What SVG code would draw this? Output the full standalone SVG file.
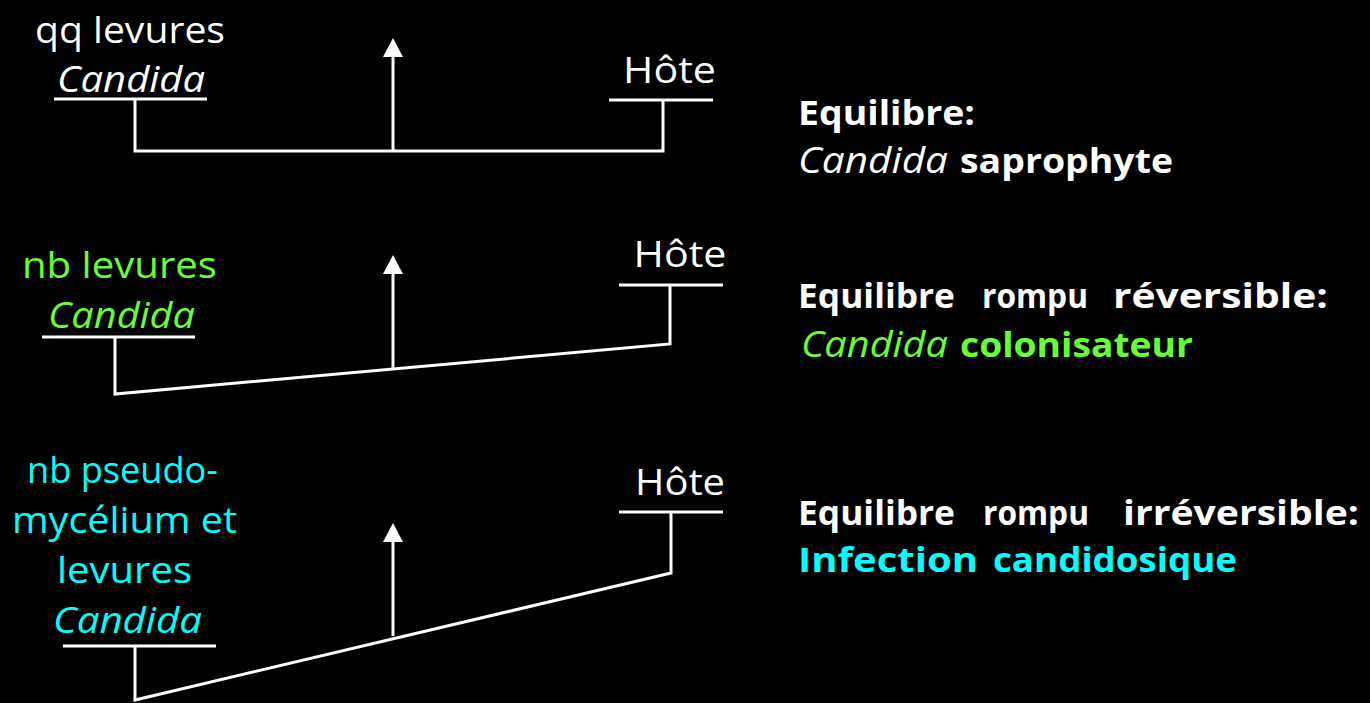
<svg xmlns="http://www.w3.org/2000/svg" width="1370" height="703" viewBox="0 0 1370 703">
<style>
  text { font-family: "Comic Sans MS", "Open Sans", "Liberation Sans", sans-serif; font-size: 37px; }
  .w { fill: #FFFFFF; }
  .g { fill: #66FF33; }
  .c { fill: #00FFFF; }
  .it { font-style: italic; }
  .b { font-weight: bold; font-size: 34px; }
  .ln { stroke: #FFFFFF; stroke-width: 3; fill: none; stroke-linecap: butt; }
  .mid { text-anchor: middle; }
</style>
<defs>
  <marker id="arr" markerUnits="userSpaceOnUse" markerWidth="22" markerHeight="22" viewBox="0 0 22 22" refX="0" refY="11" orient="auto">
    <polygon points="0,1 19,11 0,21" fill="#FFFFFF"/>
  </marker>
</defs>
<rect x="0" y="0" width="1370" height="703" fill="#000000"/>

<!-- Row 1 -->
<g id="candida1">
  <text class="w mid" x="130" y="43" textLength="190" lengthAdjust="spacingAndGlyphs">qq levures</text>
  <text class="w mid it" x="131" y="92" textLength="148" lengthAdjust="spacingAndGlyphs">Candida</text>
</g>
<g id="hote1">
  <text class="w mid" x="669.5" y="83" textLength="93" lengthAdjust="spacingAndGlyphs">Hôte</text>
</g>
<g id="label1">
  <text class="w b" x="798" y="125" textLength="177" lengthAdjust="spacingAndGlyphs">Equilibre:</text>
  <text class="w it" x="798" y="173" textLength="150" lengthAdjust="spacingAndGlyphs">Candida</text>
  <text class="w b" x="960" y="173" textLength="213" lengthAdjust="spacingAndGlyphs">saprophyte</text>
</g>

<!-- Row 2 -->
<g id="candida2">
  <text class="g mid" x="119.5" y="278" textLength="195" lengthAdjust="spacingAndGlyphs">nb levures</text>
  <text class="g mid it" x="121.5" y="328" textLength="147" lengthAdjust="spacingAndGlyphs">Candida</text>
</g>
<g id="hote2">
  <text class="w mid" x="680" y="267" textLength="93" lengthAdjust="spacingAndGlyphs">Hôte</text>
</g>
<g id="label2">
  <text class="w b" x="798" y="308" textLength="157" lengthAdjust="spacingAndGlyphs">Equilibre</text>
  <text class="w b" x="982" y="308" textLength="106" lengthAdjust="spacingAndGlyphs">rompu</text>
  <text class="w b" x="1113" y="308" textLength="215" lengthAdjust="spacingAndGlyphs">réversible:</text>
  <text class="g it" x="801" y="357" textLength="147" lengthAdjust="spacingAndGlyphs">Candida</text>
  <text class="g b" x="960" y="357" textLength="233" lengthAdjust="spacingAndGlyphs">colonisateur</text>
</g>

<!-- Row 3 -->
<g id="candida3">
  <text class="c mid" x="122.5" y="483" textLength="191" lengthAdjust="spacingAndGlyphs">nb pseudo-</text>
  <text class="c mid" x="124.5" y="533" textLength="225" lengthAdjust="spacingAndGlyphs">mycélium et</text>
  <text class="c mid" x="124.5" y="583" textLength="135" lengthAdjust="spacingAndGlyphs">levures</text>
  <text class="c mid it" x="127.5" y="633" textLength="149" lengthAdjust="spacingAndGlyphs">Candida</text>
</g>
<g id="hote3">
  <text class="w mid" x="680" y="495" textLength="90" lengthAdjust="spacingAndGlyphs">Hôte</text>
</g>
<g id="label3">
  <text class="w b" x="798" y="525" textLength="157" lengthAdjust="spacingAndGlyphs">Equilibre</text>
  <text class="w b" x="983" y="525" textLength="106" lengthAdjust="spacingAndGlyphs">rompu</text>
  <text class="w b" x="1123" y="525" textLength="236" lengthAdjust="spacingAndGlyphs">irréversible:</text>
  <text class="c b" x="798" y="572" textLength="180" lengthAdjust="spacingAndGlyphs">Infection</text>
  <text class="c b" x="993" y="572" textLength="244" lengthAdjust="spacingAndGlyphs">candidosique</text>
</g>

<g id="connectors">
  <!-- Row 1 -->
  <line class="ln" x1="54" y1="99" x2="207" y2="99"/>
  <polyline class="ln" points="135,99 135,151 663,151 663,100"/>
  <line class="ln" x1="609" y1="100" x2="713" y2="100"/>
  <line class="ln" x1="393" y1="151" x2="393" y2="57" marker-end="url(#arr)"/>
  <!-- Row 2 -->
  <line class="ln" x1="42" y1="337" x2="195" y2="337"/>
  <polyline class="ln" points="115,337 115,394 670,344 670,285"/>
  <line class="ln" x1="619" y1="285" x2="723" y2="285"/>
  <line class="ln" x1="393" y1="369" x2="393" y2="274" marker-end="url(#arr)"/>
  <!-- Row 3 -->
  <line class="ln" x1="63" y1="646" x2="216" y2="646"/>
  <polyline class="ln" points="135,646 135,700 671,573 671,512"/>
  <line class="ln" x1="619" y1="512" x2="723" y2="512"/>
  <line class="ln" x1="393" y1="636" x2="393" y2="542" marker-end="url(#arr)"/>
</g>
</svg>
